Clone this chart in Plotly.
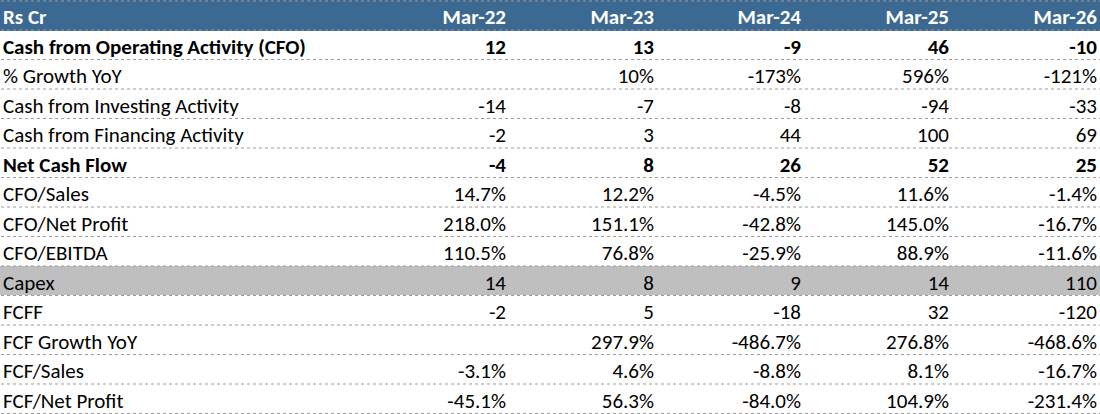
import plotly.graph_objects as go

# column headers
years = ["Mar-22", "Mar-23", "Mar-24", "Mar-25", "Mar-26"]

# row labels
rows = [
    "Cash from Operating Activity (CFO)",
    "% Growth YoY",
    "Cash from Investing Activity",
    "Cash from Financing Activity",
    "Net Cash Flow",
    "CFO/Sales",
    "CFO/Net Profit",
    "CFO/EBITDA",
    "Capex",
    "FCFF",
    "FCF Growth YoY",
    "FCF/Sales",
    "FCF/Net Profit",
]
bold_rows = {"Cash from Operating Activity (CFO)", "Net Cash Flow"}
grey_rows = {"Capex"}

# values (Rs Cr / %)
cfo = [12, 13, -9, 46, -10]
cfo_growth = [None, 10, -173, 596, -121]
investing = [-14, -7, -8, -94, -33]
financing = [-2, 3, 44, 100, 69]
net_cash = [-4, 8, 26, 52, 25]
cfo_sales = [14.7, 12.2, -4.5, 11.6, -1.4]
cfo_np = [218.0, 151.1, -42.8, 145.0, -16.7]
cfo_ebitda = [110.5, 76.8, -25.9, 88.9, -11.6]
capex = [14, 8, 9, 14, 110]
fcff = [-2, 5, -18, 32, -120]
fcf_growth = [None, 297.9, -486.7, 276.8, -468.6]
fcf_sales = [-3.1, 4.6, -8.8, 8.1, -16.7]
fcf_np = [-45.1, 56.3, -84.0, 104.9, -231.4]


def num(v):
    return "" if v is None else f"{v:,.0f}"


def pct0(v):
    return "" if v is None else f"{v:.0f}%"


def pct1(v):
    return "" if v is None else f"{v:.1f}%"


series = [
    (cfo, num), (cfo_growth, pct0), (investing, num), (financing, num),
    (net_cash, num), (cfo_sales, pct1), (cfo_np, pct1), (cfo_ebitda, pct1),
    (capex, num), (fcff, num), (fcf_growth, pct1), (fcf_sales, pct1),
    (fcf_np, pct1),
]

# two aligned text layers: regular rows and bold rows
nb = lambda s: s.replace(" ", "\u00a0")
reg_cols = [[nb(r) if r not in bold_rows else "" for r in rows]]
bold_cols = [[nb(r) if r in bold_rows else "" for r in rows]]
for j in range(len(years)):
    reg_cols.append([fmt(v[j]) if r not in bold_rows else "" for r, (v, fmt) in zip(rows, series)])
    bold_cols.append([fmt(v[j]) if r in bold_rows else "" for r, (v, fmt) in zip(rows, series)])

row_fill = ["#bfbfbf" if r in grey_rows else "white" for r in rows]

W = 1110
H = 414
HEAD_H = 30
ROW_H = 29.5
FONT = "Carlito, Lato, sans-serif"
widths = [372, 147, 148, 147, 148, 148]
aligns = ["left"] + ["right"] * 5

fig = go.Figure()
fig.add_trace(go.Table(
    columnwidth=widths,
    header=dict(
        values=["Rs\u00a0Cr"] + years,
        fill_color="#3c6991",
        line=dict(color="#3c6991", width=1),
        align=aligns,
        font=dict(family=FONT, size=21, color="white", weight="bold"),
        height=HEAD_H,
    ),
    cells=dict(
        values=reg_cols,
        fill_color=[row_fill] * 6,
        line=dict(color=[row_fill] * 6, width=1),
        align=aligns,
        font=dict(family=FONT, size=21, color="black"),
        height=ROW_H,
    ),
))
fig.add_trace(go.Table(
    columnwidth=widths,
    header=dict(
        values=[""] * 6,
        fill_color="rgba(0,0,0,0)",
        line=dict(color="rgba(0,0,0,0)", width=0),
        align=aligns,
        font=dict(family=FONT, size=21, color="rgba(0,0,0,0)"),
        height=HEAD_H,
    ),
    cells=dict(
        values=bold_cols,
        fill_color="rgba(0,0,0,0)",
        line=dict(color="rgba(0,0,0,0)", width=0),
        align=aligns,
        font=dict(family=FONT, size=21, color="black", weight="bold"),
        height=ROW_H,
    ),
))

# dotted row separators
shapes = []
for i in range(len(rows) + 1):
    ypix = HEAD_H + i * ROW_H
    shapes.append(dict(type="line", xref="paper", yref="paper", x0=0, x1=1,
                       y0=1 - ypix / H, y1=1 - ypix / H,
                       line=dict(color="#9a9a9a", width=1, dash="dot")))
shapes.append(dict(type="line", xref="paper", yref="paper", x0=0, x1=1,
                   y0=1 - 1 / H, y1=1 - 1 / H,
                   line=dict(color="#9a9a9a", width=1, dash="dot")))

fig.update_layout(
    width=W, height=H,
    margin=dict(l=0, r=0, t=0, b=0),
    paper_bgcolor="white",
    shapes=shapes,
)

# page without body margin; nudge the table so cell padding matches the sheet
post = (
    "document.body.style.margin='0';"
    "document.body.style.overflow='hidden';"
    "var gd=document.getElementsByClassName('plotly-graph-div')[0];"
    "gd.style.marginLeft='-5px';"
)
fig.write_html("out.html", post_script=post, config={"displayModeBar": False})
